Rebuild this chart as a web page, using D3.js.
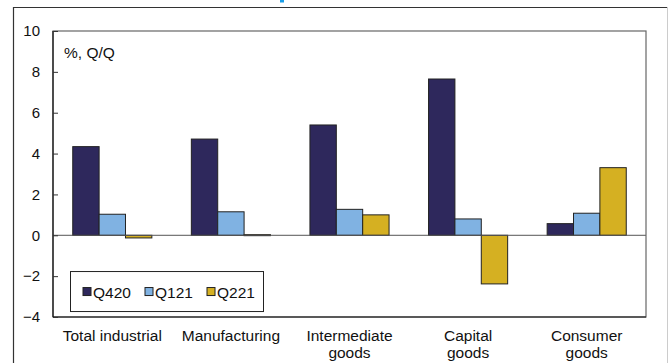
<!DOCTYPE html>
<html>
<head>
<meta charset="utf-8">
<script src="https://cdn.jsdelivr.net/npm/d3@7"></script>
<style>
  body { margin: 0; background: #fff; }
  svg { display: block; font-family: "Liberation Sans", Arial, sans-serif; }
</style>
</head>
<body>
<div id="chart"></div>
<script>
const categories = [["Total industrial"], ["Manufacturing"], ["Intermediate", "goods"], ["Capital", "goods"], ["Consumer", "goods"]];
const seriesNames = ["Q420", "Q121", "Q221"];
const q420 = [4.34, 4.71, 5.4, 7.65, 0.57];
const q121 = [1.03, 1.15, 1.27, 0.8, 1.08];
const q221 = [-0.13, 0.03, 1.0, -2.38, 3.31];
const yTicks = [-4, -2, 0, 2, 4, 6, 8, 10];
const colors = ["#2e285c", "#80b2e2", "#d5b022"];

const width = 668, height = 363;
const margins = { top: 31, right: 22, bottom: 46, left: 53 };
const chartWidth = width - margins.left - margins.right;
const chartHeight = height - margins.top - margins.bottom;

const svg = d3.select("#chart").append("svg")
    .attr("width", width).attr("height", height);

// cut-off title remnant + outer frame
svg.append("rect").attr("x", 280).attr("y", 0).attr("width", 4).attr("height", 2.5).attr("fill", "#1a9ee8");
svg.append("path").attr("d", `M13.5,${height}V7.5H${width}`)
    .attr("fill", "none").attr("stroke", "#333").attr("stroke-width", 1.2);
svg.append("line").attr("x1", 667.5).attr("x2", 667.5).attr("y1", 7).attr("y2", height)
    .attr("stroke", "#ccc");

const g = svg.append("g").attr("transform", `translate(${margins.left},${margins.top})`);

const x0 = d3.scaleBand().domain(d3.range(categories.length)).range([0, chartWidth]).paddingInner(0.333).paddingOuter(0.1665);
const x1 = d3.scaleBand().domain(seriesNames).range([0, x0.bandwidth()]);
const y = d3.scaleLinear().domain([-4, 10]).range([chartHeight, 0]);

const data = [q420, q121, q221];

// bars
seriesNames.forEach((s, si) => {
    g.selectAll(".bar-" + s)
        .data(data[si])
        .enter()
        .append("rect")
        .attr("x", (d, i) => x0(i) + x1(s))
        .attr("y", d => y(Math.max(0, d)))
        .attr("width", x1.bandwidth())
        .attr("height", d => Math.max(1, Math.abs(y(d) - y(0))))
        .attr("fill", colors[si])
        .attr("stroke", "#222")
        .attr("stroke-width", 1);
});

// zero line
g.append("line").attr("x1", 0).attr("x2", chartWidth).attr("y1", y(0)).attr("y2", y(0))
    .attr("stroke", "#555").attr("stroke-width", 1);

// plot frame
g.append("rect").attr("x", 0).attr("y", 0).attr("width", chartWidth).attr("height", chartHeight)
    .attr("fill", "none").attr("stroke", "#666").attr("stroke-width", 1.2);
g.append("line").attr("x1", 0).attr("x2", 0).attr("y1", 0).attr("y2", chartHeight)
    .attr("stroke", "#111").attr("stroke-width", 1.2);
g.append("line").attr("x1", 0).attr("x2", chartWidth).attr("y1", chartHeight).attr("y2", chartHeight)
    .attr("stroke", "#111").attr("stroke-width", 1.2);

// y axis
const yAxis = d3.axisLeft(y).tickValues(yTicks).tickSize(-5).tickPadding(13).tickFormat(d3.format("d"));
const ya = g.append("g").call(yAxis);
ya.select(".domain").remove();
ya.selectAll("line").attr("stroke", "#333");
ya.selectAll("text").attr("font-size", 15).attr("fill", "#111")
    .attr("font-family", "Liberation Sans, Arial, sans-serif");

// category labels
const labels = g.append("g");
categories.forEach((lines, i) => {
    const t = labels.append("text")
        .attr("x", x0(i) + x0.bandwidth() / 2)
        .attr("y", chartHeight + 24)
        .attr("text-anchor", "middle")
        .attr("font-size", 15.5).attr("fill", "#111");
    lines.forEach((l, k) => {
        t.append("tspan").attr("x", x0(i) + x0.bandwidth() / 2).attr("dy", k === 0 ? 0 : 17).text(l);
    });
});

// unit label
g.append("text").attr("x", 11).attr("y", 27).attr("font-size", 15.5).attr("fill", "#111").text("%, Q/Q");

// legend
const legend = g.append("g").attr("transform", `translate(17,${y(-1.75)})`);
legend.append("rect").attr("x", 0.5).attr("y", 0.5).attr("width", 193).attr("height", 40)
    .attr("fill", "#fff").attr("stroke", "#222");
const legendX = [13, 75, 137];
seriesNames.forEach((s, si) => {
    legend.append("rect").attr("x", legendX[si]).attr("y", 16.5).attr("width", 8).attr("height", 8)
        .attr("fill", colors[si]).attr("stroke", "#222");
    legend.append("text").attr("x", legendX[si] + 10).attr("y", 26.5).attr("font-size", 15.5)
        .attr("fill", "#111").text(s);
});
</script>
</body>
</html>
